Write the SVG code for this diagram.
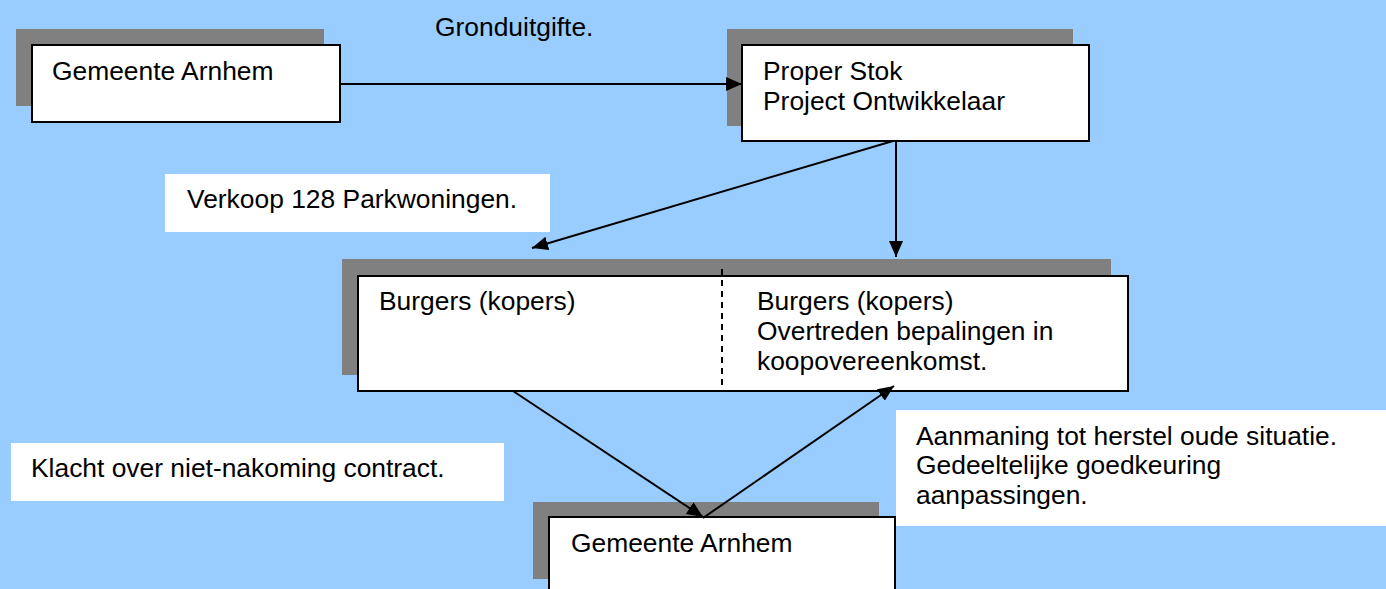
<svg xmlns="http://www.w3.org/2000/svg" width="1386" height="589" viewBox="0 0 1386 589">
<defs>
<marker id="ah" markerUnits="userSpaceOnUse" markerWidth="17" markerHeight="15" refX="16" refY="7" orient="auto">
<path d="M0,0 L16,7 L0,14 z" fill="#000"/>
</marker>
<style>
text{font-family:"Liberation Sans",Arial,sans-serif;font-size:26.4px;fill:#000}
.shadow{fill:#808080}
.box{fill:#fff;stroke:#000;stroke-width:2}
.lbl{fill:#fff}
.conn{stroke:#000;stroke-width:2;fill:none;marker-end:url(#ah)}
</style>
</defs>
<rect width="1386" height="589" fill="#99CCFF"/>
<g id="label-gronduitgifte"><text x="435" y="36">Gronduitgifte.</text></g>
<g id="label-verkoop"><rect class="lbl" x="165" y="174" width="385" height="58"/><text x="187" y="208">Verkoop 128 Parkwoningen.</text></g>
<g id="label-klacht"><rect class="lbl" x="11" y="443" width="493" height="58"/><text x="31" y="477">Klacht over niet-nakoming contract.</text></g>
<g id="label-aanmaning"><rect class="lbl" x="896" y="410" width="490" height="116"/><text x="916" y="445">Aanmaning tot herstel oude situatie.</text><text x="916" y="474">Gedeeltelijke goedkeuring</text><text x="916" y="504">aanpassingen.</text></g>
<g id="node-gemeente-top"><rect class="shadow" x="16" y="29" width="308" height="77"/><rect class="box" x="32" y="45" width="308" height="77"/><text x="52" y="80">Gemeente Arnhem</text></g>
<g id="node-proper"><rect class="shadow" x="727" y="29" width="346" height="97"/><rect class="box" x="742" y="45" width="347" height="96"/><text x="763" y="80">Proper Stok</text><text x="763" y="110">Project Ontwikkelaar</text></g>
<g id="node-burgers"><rect class="shadow" x="342" y="259" width="769" height="116"/><rect class="box" x="358" y="276" width="770" height="115"/><line x1="722" y1="269" x2="722" y2="388" stroke="#000" stroke-width="2" stroke-dasharray="6,5"/><text x="379" y="310">Burgers (kopers)</text><text x="757" y="310">Burgers (kopers)</text><text x="757" y="340">Overtreden bepalingen in</text><text x="757" y="370">koopovereenkomst.</text></g>
<g id="node-gemeente-bottom"><rect class="shadow" x="533" y="502" width="346" height="77"/><rect class="box" x="549" y="517" width="346" height="80"/><text x="571" y="552">Gemeente Arnhem</text></g>
<g id="connectors">
<line class="conn" x1="340" y1="84" x2="742" y2="84"/>
<line class="conn" x1="893" y1="141" x2="532" y2="248"/>
<line class="conn" x1="896" y1="141" x2="896" y2="257"/>
<line class="conn" x1="513" y1="391" x2="703" y2="517"/>
<line class="conn" x1="703" y1="518" x2="894" y2="386"/>
</g>
</svg>
